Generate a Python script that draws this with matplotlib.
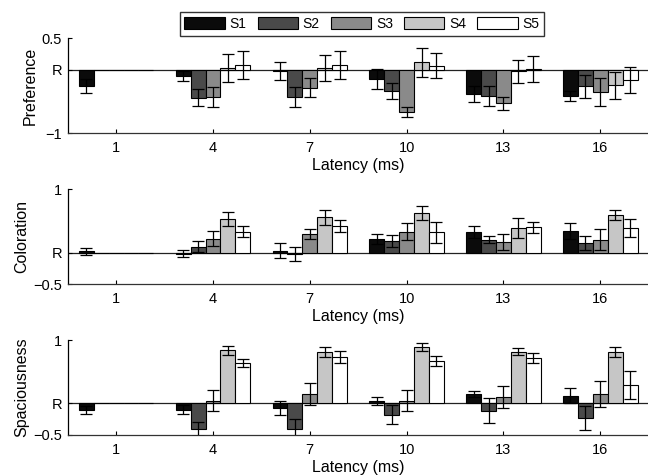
import numpy as np
import matplotlib
matplotlib.use("Agg")
import matplotlib.pyplot as plt

plt.rcParams['font.family'] = ['Liberation Sans', 'DejaVu Sans']

latency = [1, 4, 7, 10, 13, 16]
series = ['S1', 'S2', 'S3', 'S4', 'S5']
colors = ['#0b0b0b', '#4a4a4a', '#8a8a8a', '#c6c6c6', '#ffffff']

# Preference
pref_S1 = [-0.25, -0.10, -0.02, -0.14, -0.38, -0.41]
pref_S2 = [0, -0.44, -0.43, -0.33, -0.41, -0.26]
pref_S3 = [0, -0.43, -0.28, -0.665, -0.527, -0.35]
pref_S4 = [0, 0.035, 0.03, 0.12, -0.02, -0.245]
pref_S5 = [0, 0.075, 0.075, 0.066, 0.013, -0.157]
pref_S1_err = [0.11, 0.08, 0.14, 0.16, 0.127, 0.077]
pref_S2_err = [0, 0.13, 0.16, 0.125, 0.155, 0.185]
pref_S3_err = [0, 0.16, 0.15, 0.075, 0.10, 0.215]
pref_S4_err = [0, 0.22, 0.21, 0.23, 0.18, 0.215]
pref_S5_err = [0, 0.22, 0.22, 0.20, 0.21, 0.21]

# Coloration
col_S1 = [0.02, -0.02, 0.03, 0.217, 0.33, 0.34]
col_S2 = [0, 0.09, -0.02, 0.175, 0.20, 0.15]
col_S3 = [0, 0.217, 0.29, 0.33, 0.17, 0.205]
col_S4 = [0, 0.53, 0.555, 0.63, 0.39, 0.60]
col_S5 = [0, 0.33, 0.42, 0.317, 0.40, 0.385]
col_S1_err = [0.053, 0.055, 0.12, 0.08, 0.095, 0.125]
col_S2_err = [0, 0.085, 0.11, 0.095, 0.055, 0.11]
col_S3_err = [0, 0.12, 0.08, 0.14, 0.13, 0.17]
col_S4_err = [0, 0.11, 0.125, 0.11, 0.16, 0.08]
col_S5_err = [0, 0.09, 0.095, 0.16, 0.09, 0.14]

# Spaciousness
spa_S1 = [-0.105, -0.105, -0.074, 0.033, 0.147, 0.116]
spa_S2 = [0, -0.41, -0.405, -0.184, -0.116, -0.23]
spa_S3 = [0, 0.037, 0.147, 0.042, 0.10, 0.142]
spa_S4 = [0, 0.837, 0.81, 0.89, 0.816, 0.816]
spa_S5 = [0, 0.637, 0.726, 0.668, 0.716, 0.29]
spa_S1_err = [0.063, 0.07, 0.11, 0.058, 0.05, 0.12]
spa_S2_err = [0, 0.11, 0.15, 0.15, 0.20, 0.19]
spa_S3_err = [0, 0.165, 0.175, 0.17, 0.17, 0.205]
spa_S4_err = [0, 0.07, 0.085, 0.06, 0.055, 0.08]
spa_S5_err = [0, 0.07, 0.095, 0.08, 0.08, 0.22]

panels = [
    ('Preference', [pref_S1, pref_S2, pref_S3, pref_S4, pref_S5],
     [pref_S1_err, pref_S2_err, pref_S3_err, pref_S4_err, pref_S5_err],
     (-1, 0.5), [-1, 0, 0.5], ['\u22121', 'R', '0.5']),
    ('Coloration', [col_S1, col_S2, col_S3, col_S4, col_S5],
     [col_S1_err, col_S2_err, col_S3_err, col_S4_err, col_S5_err],
     (-0.5, 1), [-0.5, 0, 1], ['\u22120.5', 'R', '1']),
    ('Spaciousness', [spa_S1, spa_S2, spa_S3, spa_S4, spa_S5],
     [spa_S1_err, spa_S2_err, spa_S3_err, spa_S4_err, spa_S5_err],
     (-0.5, 1), [-0.5, 0, 1], ['\u22120.5', 'R', '1']),
]

fig = plt.figure(figsize=(6.48, 4.75), dpi=100)
left = 67.7 / 648
width = 581.0 / 648
tops = [38.3, 189.3, 340.0]
h = 94.8
bw = 0.4615
x = np.array(latency, dtype=float)

handles = []
for (name, vals, errs, ylim, yt, ytl), top in zip(panels, tops):
    ax = fig.add_axes([left, 1 - (top + h) / 475, width, h / 475])
    ax.axhline(0, color='#222222', linewidth=0.9, zorder=1)
    for i in range(5):
        xs = x + (i - 2) * bw
        b = ax.bar(xs, vals[i], width=bw, color=colors[i], edgecolor='black',
                   linewidth=0.8, zorder=2, label=series[i])
        if top == tops[0]:
            handles.append(b)
        v = np.array(vals[i]); e = np.array(errs[i])
        m = e > 0
        ax.errorbar(xs[m], v[m], yerr=e[m], fmt='none', ecolor='black',
                    elinewidth=0.9, capsize=4.5, capthick=0.9, zorder=3)
    ax.set_xlim(-0.5, 17.5)
    ax.set_ylim(*ylim)
    ax.set_yticks(yt)
    ax.set_yticklabels(ytl)
    ax.set_xticks(latency)
    ax.set_xticklabels([str(v) for v in latency])
    ax.tick_params(direction='in', length=3, width=0.8, labelsize=10.5)
    ax.tick_params(axis='x', pad=6)
    ax.tick_params(axis='y', pad=4)
    ax.spines['top'].set_visible(False)
    ax.spines['right'].set_visible(False)
    ax.spines['left'].set_linewidth(0.9)
    ax.spines['bottom'].set_linewidth(0.9)
    ax.spines['bottom'].set_color('#333333')
    ax.set_ylabel(name, fontsize=11.5, labelpad=3)
    ax.set_xlabel('Latency (ms)', fontsize=11.5, labelpad=2)

leg = fig.legend(handles, series, loc='center', ncol=5,
                 bbox_to_anchor=(362 / 648, 1 - 24 / 475), fontsize=10,
                 handlelength=2.9, handleheight=0.9, handletextpad=0.35,
                 columnspacing=0.8, borderpad=0.35, fancybox=False,
                 frameon=True, edgecolor='black')
leg.get_frame().set_linewidth(1.0)

fig.savefig('out.png', dpi=100)
